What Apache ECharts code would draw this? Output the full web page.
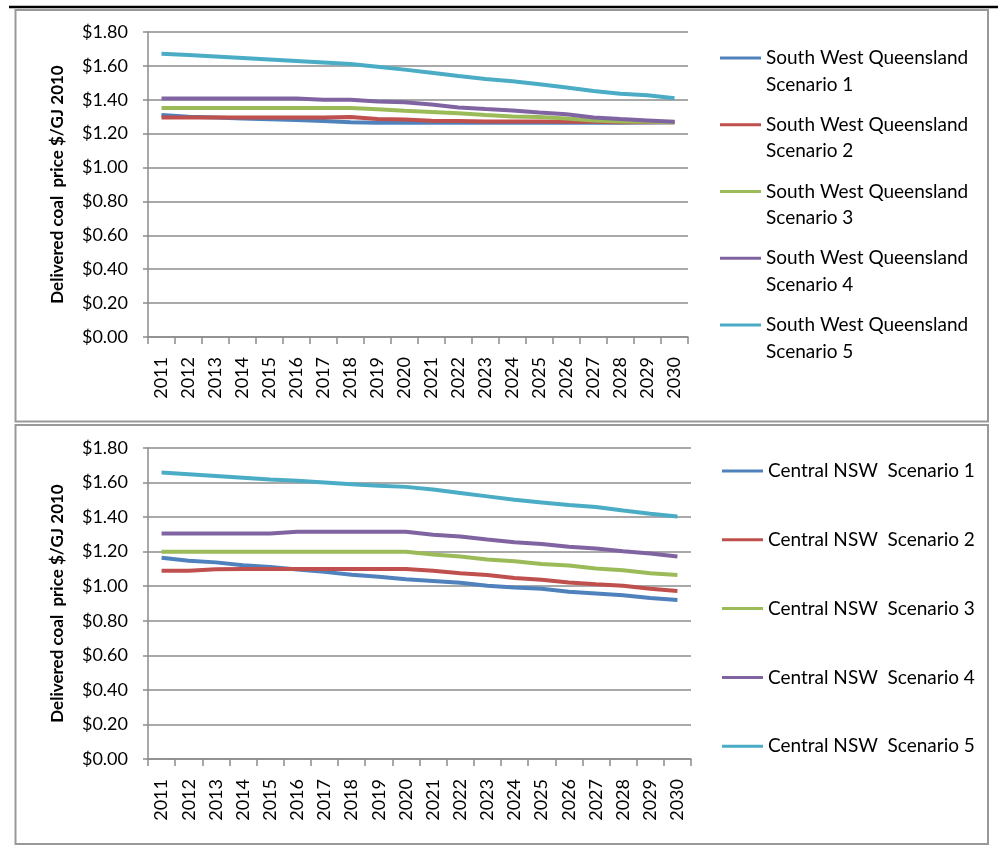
<!DOCTYPE html>
<html>
<head>
<meta charset="utf-8">
<script src="https://cdn.jsdelivr.net/npm/echarts@6/dist/echarts.min.js"></script>
<style>
  html, body { margin: 0; padding: 0; background: #fff; }
  #chart { width: 998px; height: 845px; }
</style>
</head>
<body>
<div id="chart"></div>
<script>
// Years on the category axis
const years = ['2011','2012','2013','2014','2015','2016','2017','2018','2019','2020',
               '2021','2022','2023','2024','2025','2026','2027','2028','2029','2030'];

// Delivered coal price, $/GJ (2010 dollars) — South West Queensland
const swqScenario1 = [1.31,1.30,1.295,1.29,1.285,1.28,1.275,1.268,1.265,1.265,1.265,1.265,1.265,1.265,1.265,1.265,1.265,1.265,1.266,1.267];
const swqScenario2 = [1.295,1.295,1.295,1.295,1.295,1.295,1.296,1.298,1.286,1.283,1.276,1.275,1.272,1.272,1.272,1.270,1.270,1.268,1.268,1.268];
const swqScenario3 = [1.352,1.352,1.352,1.352,1.352,1.352,1.352,1.352,1.344,1.335,1.328,1.320,1.310,1.302,1.298,1.290,1.278,1.272,1.270,1.268];
const swqScenario4 = [1.407,1.407,1.407,1.407,1.407,1.407,1.400,1.400,1.390,1.385,1.372,1.355,1.345,1.337,1.325,1.315,1.296,1.286,1.278,1.270];
const swqScenario5 = [1.672,1.664,1.656,1.647,1.638,1.629,1.620,1.611,1.595,1.578,1.560,1.540,1.523,1.510,1.492,1.473,1.452,1.435,1.427,1.409];

// Delivered coal price, $/GJ (2010 dollars) — Central NSW
const cnswScenario1 = [1.165,1.148,1.138,1.122,1.112,1.097,1.083,1.066,1.055,1.040,1.030,1.020,1.003,0.993,0.985,0.968,0.958,0.948,0.932,0.920];
const cnswScenario2 = [1.090,1.090,1.098,1.100,1.100,1.100,1.100,1.100,1.100,1.100,1.090,1.075,1.065,1.048,1.038,1.022,1.012,1.003,0.985,0.972];
const cnswScenario3 = [1.200,1.200,1.200,1.200,1.200,1.200,1.200,1.200,1.200,1.200,1.183,1.172,1.155,1.145,1.128,1.120,1.102,1.092,1.075,1.065];
const cnswScenario4 = [1.305,1.305,1.305,1.305,1.305,1.315,1.315,1.315,1.315,1.315,1.298,1.288,1.270,1.255,1.245,1.228,1.218,1.202,1.190,1.172];
const cnswScenario5 = [1.658,1.648,1.638,1.628,1.618,1.610,1.600,1.590,1.582,1.575,1.560,1.540,1.520,1.500,1.485,1.470,1.458,1.438,1.420,1.404];

const swqNames = ['South West Queensland Scenario 1','South West Queensland Scenario 2',
                  'South West Queensland Scenario 3','South West Queensland Scenario 4',
                  'South West Queensland Scenario 5'];
const cnswNames = ['Central NSW  Scenario 1','Central NSW  Scenario 2','Central NSW  Scenario 3',
                   'Central NSW  Scenario 4','Central NSW  Scenario 5'];

const yTicks = { min: 0, max: 1.8, interval: 0.2 };
const yAxisTitle = 'Delivered coal  price $/GJ 2010';

const palette = ['#4F81BD', '#C0504D', '#9BBB59', '#8064A2', '#4BACC6'];
const FONT = 'Lato, "Noto Sans", sans-serif';
const GRID_GRAY = '#8c8c8c';

const chart = echarts.init(document.getElementById('chart'), null, { renderer: 'canvas' });

function makeXAxis(gridIndex) {
  return {
    type: 'category',
    gridIndex,
    data: years,
    boundaryGap: true,
    axisLine: { show: true, lineStyle: { color: GRID_GRAY, width: 1.5 } },
    axisTick: { show: true, interval: 0, length: 7, lineStyle: { color: GRID_GRAY, width: 1.5 } },
    axisLabel: { interval: 0, rotate: 90, margin: 20, fontSize: 18, fontFamily: FONT, color: '#000' },
    splitLine: { show: false }
  };
}

function makeYAxis(gridIndex) {
  return {
    type: 'value',
    gridIndex,
    min: yTicks.min,
    max: yTicks.max,
    interval: yTicks.interval,
    name: yAxisTitle,
    nameLocation: 'middle',
    nameGap: 82,
    nameTextStyle: { fontSize: 17, fontWeight: 'bold', fontFamily: FONT, color: '#000' },
    axisLine: { show: true, lineStyle: { color: GRID_GRAY, width: 1.5 } },
    axisTick: { show: true, length: 5, lineStyle: { color: GRID_GRAY, width: 1.5 } },
    axisLabel: {
      margin: 20, fontSize: 18, fontFamily: FONT, color: '#000',
      formatter: v => '$' + v.toFixed(2)
    },
    splitLine: { show: true, lineStyle: { color: GRID_GRAY, width: 1.5 } }
  };
}

function makeSeries(name, data, idx, axisIndex) {
  return {
    name, type: 'line', data,
    xAxisIndex: axisIndex, yAxisIndex: axisIndex,
    symbol: 'none', smooth: false,
    itemStyle: { color: palette[idx] },
    lineStyle: { color: palette[idx], width: 4 },
    emphasis: { disabled: true },
    animation: false
  };
}

const swqData = [swqScenario1, swqScenario2, swqScenario3, swqScenario4, swqScenario5];
const cnswData = [cnswScenario1, cnswScenario2, cnswScenario3, cnswScenario4, cnswScenario5];

const series = [];
swqNames.forEach((n, i) => series.push(makeSeries(n, swqData[i], i, 0)));
cnswNames.forEach((n, i) => series.push(makeSeries(n, cnswData[i], i, 1)));

const option = {
  backgroundColor: '#fff',
  animation: false,
  grid: [
    { left: 148, top: 32, width: 540, height: 305 },
    { left: 148, top: 448, width: 543, height: 311 }
  ],
  xAxis: [makeXAxis(0), makeXAxis(1)],
  yAxis: [makeYAxis(0), makeYAxis(1)],
  legend: [
    {
      data: swqNames,
      orient: 'vertical',
      left: 715, top: 13,
      icon: 'rect', itemWidth: 41, itemHeight: 3,
      itemGap: -13,
      selectedMode: false,
      // blank leading line keeps the swatch level with the first text line
      formatter: name => '\n' + name.replace(' Scenario', '\nScenario'),
      textStyle: { fontSize: 19, fontFamily: FONT, color: '#000', lineHeight: 26.6 }
    },
    {
      data: cnswNames,
      orient: 'vertical',
      left: 717, top: 455,
      icon: 'rect', itemWidth: 41, itemHeight: 3,
      itemGap: 46.8,
      selectedMode: false,
      textStyle: { fontSize: 19, fontFamily: FONT, color: '#000', lineHeight: 22 }
    }
  ],
  graphic: [
    { type: 'line', silent: true, shape: { x1: 9, y1: 7, x2: 998, y2: 7 },
      style: { stroke: '#000', lineWidth: 2.5 } },
    { type: 'rect', silent: true, shape: { x: 15.5, y: 10, width: 972.5, height: 411.5 },
      style: { fill: 'none', stroke: '#999', lineWidth: 2 } },
    { type: 'rect', silent: true, shape: { x: 15.5, y: 425, width: 972.5, height: 419 },
      style: { fill: 'none', stroke: '#999', lineWidth: 2 } }
  ],
  series
};

chart.setOption(option);
</script>
</body>
</html>
